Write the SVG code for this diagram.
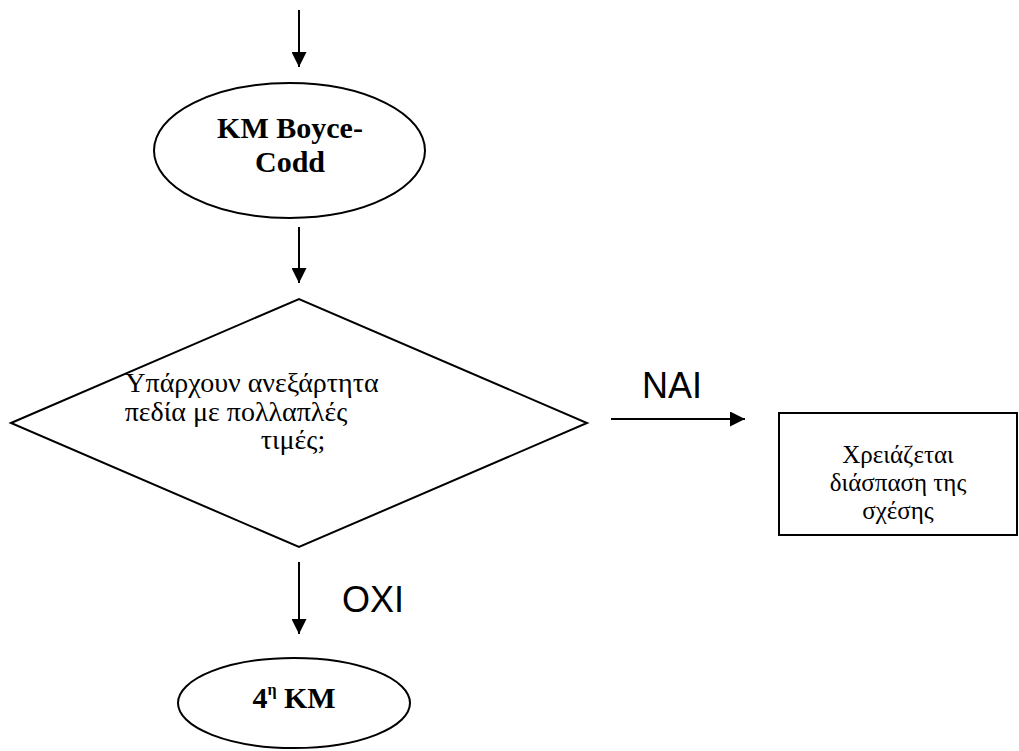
<svg xmlns="http://www.w3.org/2000/svg" width="1019" height="751" viewBox="0 0 1019 751">
<defs>
<marker id="ah" markerWidth="15" markerHeight="15" refX="15" refY="7.5" orient="auto" markerUnits="userSpaceOnUse">
<path d="M0,0 L15,7.5 L0,15 Z" fill="#000"/>
</marker>
<style>
.shape{fill:#fff;stroke:#000;stroke-width:2}
.conn{stroke:#000;stroke-width:2;fill:none;marker-end:url(#ah)}
.tb{font-family:"Liberation Serif","Times New Roman",serif;font-weight:bold;font-size:30px;fill:#000;text-anchor:middle}
.t{font-family:"Liberation Serif","Times New Roman",serif;font-size:28px;fill:#000;text-anchor:middle}
.tr{font-family:"Liberation Serif","Times New Roman",serif;font-size:25px;fill:#000;text-anchor:middle}
.lbl{font-family:"Liberation Sans",Arial,sans-serif;font-size:36px;fill:#000}
</style>
</defs>
<rect width="1019" height="751" fill="#fff"/>
<g id="connectors">
<line class="conn" x1="299" y1="10" x2="299" y2="67"/>
<line class="conn" x1="299" y1="227" x2="299" y2="283"/>
<line class="conn" x1="299" y1="562" x2="299" y2="634"/>
<line class="conn" x1="611" y1="419" x2="745" y2="419"/>
<text class="lbl" x="642" y="398">NAI</text>
<text class="lbl" x="342" y="612">OXI</text>
</g>
<g id="bcnf">
<ellipse class="shape" cx="289.5" cy="150.5" rx="135.5" ry="67.5"/>
<text class="tb" x="290" y="138">KM Boyce-</text>
<text class="tb" x="290" y="172">Codd</text>
</g>
<g id="decision">
<polygon class="shape" points="11,423 299,299 587,423 299,547"/>
<text class="t" x="252" y="392">Υπάρχουν ανεξάρτητα</text>
<text class="t" x="236" y="421">πεδία με πολλαπλές</text>
<text class="t" x="293" y="449">τιμές;</text>
</g>
<g id="split">
<rect class="shape" x="779" y="413" width="238" height="122"/>
<text class="tr" x="898" y="463">Χρειάζεται</text>
<text class="tr" x="898" y="491">διάσπαση της</text>
<text class="tr" x="898" y="519">σχέσης</text>
</g>
<g id="nf4">
<ellipse class="shape" cx="294" cy="703" rx="116" ry="45"/>
<text class="tb" x="294" y="708">4<tspan font-size="16" dy="-13">η</tspan><tspan dy="13"> KM</tspan></text>
</g>
</svg>
